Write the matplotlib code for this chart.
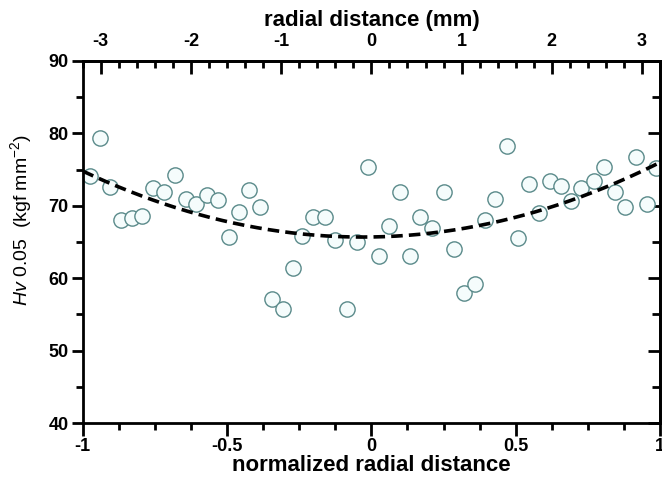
import numpy as np
import matplotlib.pyplot as plt
from matplotlib.ticker import MultipleLocator, NullFormatter

plt.rcParams['font.family'] = ['Liberation Sans', 'DejaVu Sans']
plt.rcParams['mathtext.fontset'] = 'custom'
plt.rcParams['mathtext.rm'] = 'Liberation Sans'
plt.rcParams['mathtext.it'] = 'Liberation Sans:italic'
plt.rcParams['axes.unicode_minus'] = False

# measured hardness, normalized radial position
r_norm = [-0.975, -0.94, -0.906, -0.868, -0.83, -0.793, -0.756, -0.72, -0.682,
          -0.643, -0.606, -0.569, -0.531, -0.495, -0.46, -0.423, -0.386, -0.346,
          -0.307, -0.27, -0.24, -0.203, -0.162, -0.126, -0.085, -0.049, -0.012,
          0.028, 0.06, 0.099, 0.134, 0.17, 0.21, 0.25, 0.285, 0.322, 0.36,
          0.393, 0.43, 0.47, 0.508, 0.547, 0.58, 0.619, 0.657, 0.69, 0.726,
          0.77, 0.807, 0.844, 0.88, 0.917, 0.954, 0.986]
hv = [74.1, 79.3, 72.6, 68.1, 68.3, 68.6, 72.5, 71.95, 74.3,
      71.0, 70.3, 71.5, 70.8, 65.7, 69.1, 72.2, 69.9, 57.1,
      55.8, 61.4, 65.8, 68.4, 68.4, 65.3, 55.8, 65.0, 75.4,
      63.1, 67.25, 71.95, 63.1, 68.5, 66.9, 71.95, 64.0, 57.9, 59.2,
      68.0, 70.9, 78.3, 65.6, 73.0, 69.0, 73.4, 72.8, 70.7, 72.5,
      73.4, 75.4, 71.95, 69.9, 76.8, 70.3, 75.2]

# quadratic fit (a*x^2 + b*x + c)
fit_coeffs = [9.7, 0.6, 65.7]
radius_mm = 3.2

fig = plt.figure(figsize=(6.62, 4.88), dpi=100)
ax = fig.add_axes([0.125, 0.133, 0.872, 0.742])

xf = np.linspace(-1, 1, 200)
ax.plot(r_norm, hv, 'o', ms=11, mfc='#f5fcfc', mec='#5a8a8a', mew=1.0,
        zorder=2)
ax.plot(xf, np.polyval(fit_coeffs, xf), color='black', lw=2.6,
        dashes=(3.2, 1.7), zorder=3)

ax.set_xlim(-1, 1)
ax.set_ylim(40, 90)
ax.set_xticks([-1, -0.5, 0, 0.5, 1])
ax.set_xticklabels(['-1', '-0.5', '0', '0.5', '1'])
ax.xaxis.set_minor_locator(MultipleLocator(0.125))
ax.yaxis.set_major_locator(MultipleLocator(10))
ax.yaxis.set_minor_locator(MultipleLocator(5))

for s in ax.spines.values():
    s.set_linewidth(2)

ax.tick_params(axis='x', which='both', direction='out', width=2,
               labelsize=13, pad=2)
ax.tick_params(axis='x', which='major', length=9)
ax.tick_params(axis='x', which='minor', length=5)
ax.tick_params(axis='y', which='both', direction='out', width=2,
               labelsize=13, pad=2)
ax.tick_params(axis='y', which='major', length=8)
ax.tick_params(axis='y', which='minor', length=5)
for lab in ax.get_xticklabels() + ax.get_yticklabels():
    lab.set_fontweight('bold')

ax.set_xlabel('normalized radial distance', fontsize=16, fontweight='bold',
              labelpad=0)
ax.set_ylabel(r'$\it{Hv}$ 0.05  (kgf mm$^{-2}$)', fontsize=14)
ax.yaxis.set_label_coords(-0.085, 0.56)

# right axis: inward ticks, no labels
right = ax.secondary_yaxis('right')
right.yaxis.set_major_locator(MultipleLocator(10))
right.yaxis.set_minor_locator(MultipleLocator(5))
right.yaxis.set_major_formatter(NullFormatter())
right.spines['right'].set_linewidth(2)
right.tick_params(axis='y', which='both', direction='in', width=2)
right.tick_params(axis='y', which='major', length=9)
right.tick_params(axis='y', which='minor', length=6)

# top axis in mm
top = ax.secondary_xaxis('top', functions=(lambda x: x * radius_mm,
                                           lambda x: x / radius_mm))
top.xaxis.set_major_locator(MultipleLocator(1))
top.xaxis.set_minor_locator(MultipleLocator(0.2))
top.spines['top'].set_linewidth(2)
top.tick_params(axis='x', which='both', direction='in', width=2,
                labelsize=13, pad=8)
top.tick_params(axis='x', which='major', length=9)
top.tick_params(axis='x', which='minor', length=5)
for lab in top.get_xticklabels():
    lab.set_fontweight('bold')
top.set_xlabel('radial distance (mm)', fontsize=16, fontweight='bold',
               labelpad=5)

fig.savefig('out.png', dpi=100)
